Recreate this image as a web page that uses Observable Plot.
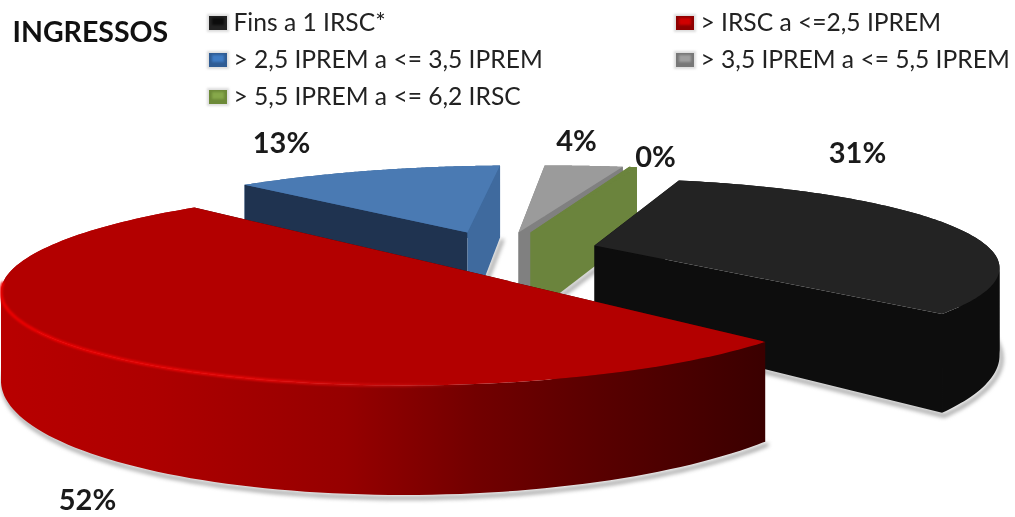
<!DOCTYPE html>
<html><head><meta charset="utf-8">
<script src="https://cdn.jsdelivr.net/npm/d3@7"></script>
<script src="https://cdn.jsdelivr.net/npm/@observablehq/plot@0.6"></script>
<style>html,body{margin:0;padding:0;background:#fff}svg{display:block}</style>
</head><body><div id="chart"></div>
<script>
// --- values ---
const categories = ["Fins a 1 IRSC*", "> IRSC a <=2,5 IPREM", "> 2,5 IPREM a <= 3,5 IPREM", "> 3,5 IPREM a <= 5,5 IPREM", "> 5,5 IPREM a <= 6,2 IRSC"];
const shares = [31, 52, 13, 4, 0.4];
const title = "INGRESSOS";

// --- 3D layout of the exploded slices ---
const startAngle = 14, perspective = 0.2515;
const apexX = [594, 430, 467, 518, 530];
const apexY = [245, 262, 232, 232, 232];
const spreadX = [392, 410, 395, 395, 395];
const skewX = [0, -20, -53, -45, -38];
const spreadY = [83.8, 92, 83.8, 83.8, 83.8];
const depth = [82, 82, 90, 85, 83];
const nudgeStart = [1.5, 10, 0, 0, 0];
const nudgeEnd = [7.5, 3, 0, 0, 0];
const topFill = ["#232323", "#b30000", "#4a7ab3", "#9b9b9b", "#6b843d"];
const arcFill = ["#0d0d0d", "url(#redWall)", "#3a6698", "#808080", "#6b843d"];
const startWall = ["#0d0d0d", "#3d0000", "#1f3350", "#808080", "#6b843d"];
const endWall = ["#0d0d0d", "#3d0000", "#3f6a9e", "#808080", "#6b843d"];
const paintOrder = [2, 3, 4, 0, 1];

// --- labels and legend layout ---
const labelX = [857, 87, 281, 576, 655];
const labelY = [153, 500, 143, 141, 157];
const legendX = [233, 700, 233, 700, 233];
const legendY = [23, 23, 60, 60, 97];
const swatchEdge = ["#222222", "#8c0000", "#2f5c94", "#777777", "#6d8a38"];
const swatchCore = ["#0c0c0c", "#d00000", "#3f7cc4", "#a0a0a0", "#86a84a"];

const total = d3.sum(shares);
let cum = 0;
const slices = shares.map((v, i) => {
  const t0 = startAngle + cum / total * 360;
  cum += v;
  return {i, t0: t0 + nudgeStart[i], t1: startAngle + cum / total * 360 + nudgeEnd[i]};
});
function project(i, t, down = 0) {
  const a = t * Math.PI / 180, U = Math.sin(a), V = -Math.cos(a), w = 1 / (1 - perspective * V);
  return {x: apexX[i] + (spreadX[i] * U + skewX[i] * V) * w, y: apexY[i] + (spreadY[i] * V + depth[i] * down) * w, V};
}
const steps = 120;
const arc = (s, down) => d3.range(0, steps + 1).map(k => project(s.i, s.t0 + (s.t1 - s.t0) * k / steps, down));
const ctr = (i, down) => ({x: apexX[i], y: apexY[i] + depth[i] * down});
const poly = (pts, fill) => Plot.line(pts, {x: "x", y: "y", fill, stroke: "none"});
const wall = (s, t, fill) => poly([ctr(s.i, 0), project(s.i, t, 0), project(s.i, t, 1), ctr(s.i, 1)], fill);
// the curved outer wall: one polygon per stretch of the arc that runs one way in x, so it never folds on itself
function stripMarks(s, fill) {
  const up = arc(s, 0), dn = arc(s, 1), cuts = [0];
  for (let k = 1; k < steps; k++) {
    if ((up[k].x - up[k - 1].x) * (up[k + 1].x - up[k].x) < 0) cuts.push(k);
  }
  cuts.push(steps);
  return d3.pairs(cuts).map(([a, b]) => poly([...up.slice(a, b + 1), ...dn.slice(a, b + 1).reverse()], fill));
}

const marks = [
  () => {
    const defs = d3.create("svg:defs");
    const g = defs.append("linearGradient").attr("id", "redWall").attr("gradientUnits", "userSpaceOnUse")
      .attr("x1", 0).attr("x2", 767).attr("y1", 0).attr("y2", 0);
    [[0, "#b80000"], [0.2, "#ad0000"], [0.45, "#960000"], [0.62, "#720000"], [0.8, "#560000"], [1, "#3a0000"]]
      .forEach(([o, c]) => g.append("stop").attr("offset", o).attr("stop-color", c));
    const h = defs.append("linearGradient").attr("id", "redGlow").attr("gradientUnits", "userSpaceOnUse")
      .attr("x1", 0).attr("x2", 480).attr("y1", 0).attr("y2", 0);
    [[0, "#f00000", 1], [0.55, "#e80808", 1], [0.85, "#d01010", 0.6], [1, "#b30000", 0]]
      .forEach(([o, c, a]) => h.append("stop").attr("offset", o).attr("stop-color", c).attr("stop-opacity", a));
    return defs.node();
  }
];

for (const i of paintOrder) {
  const s = slices[i];
  const bisector = project(i, (s.t0 + s.t1) / 2);
  const top = [ctr(i, 0), ...arc(s, 0)];
  // soft shadow under the lower edges
  const lower = arc(s, 1).filter(p => p.V > 0);
  const shadowPts = i === 1 ? lower : [ctr(i, 1), project(i, s.t1, 1), ...lower.reverse()];
  marks.push(Plot.line(shadowPts, {x: "x", y: "y", stroke: "#6f6f6f", strokeWidth: 3, dx: 2, dy: 3, imageFilter: "blur(2px)", strokeOpacity: 0.8}));
  if (bisector.V > 0) {
    marks.push(wall(s, s.t0, startWall[i]), wall(s, s.t1, endWall[i]), ...stripMarks(s, arcFill[i]));
  } else {
    marks.push(...stripMarks(s, arcFill[i]), wall(s, s.t0, startWall[i]), wall(s, s.t1, endWall[i]));
  }
  marks.push(poly(top, topFill[i]));
  if (i === 1) {
    marks.push(Plot.line(arc(s, 0).filter(p => p.x < 480 && p.V > 0.2), {x: "x", y: "y", stroke: "url(#redGlow)", strokeWidth: 3, imageFilter: "blur(1px)"}));
  }
}

// legend swatches
const swatches = categories.map((c, i) => ({x: legendX[i], y: legendY[i], i}));
marks.push(
  Plot.rect(swatches, {x1: d => d.x - 26, x2: d => d.x - 4, y1: d => d.y - 9, y2: d => d.y + 9, fill: "#dddddd", imageFilter: "blur(1px)"}),
  Plot.rect(swatches, {x1: d => d.x - 24, x2: d => d.x - 6, y1: d => d.y - 7, y2: d => d.y + 7, fill: d => swatchEdge[d.i]}),
  Plot.rect(swatches, {x1: d => d.x - 21, x2: d => d.x - 9, y1: d => d.y - 5, y2: d => d.y + 2, fill: d => swatchCore[d.i], imageFilter: "blur(1px)"})
);
// legend text, title and percentage labels
const font = "Lato, 'Open Sans', sans-serif";
marks.push(
  Plot.text(categories, {x: (d, i) => legendX[i], y: (d, i) => legendY[i], text: d => d, textAnchor: "start", fontSize: 24.6, fontFamily: font, fill: "#222", imageFilter: "blur(0.4px)"}),
  Plot.text([title], {x: () => 12, y: () => 32, text: d => d, textAnchor: "start", fontSize: 28.5, fontWeight: 700, fontFamily: font, fill: "#111", imageFilter: "blur(0.4px)"}),
  Plot.text(shares, {x: (d, i) => labelX[i], y: (d, i) => labelY[i], text: d => Math.round(d) + "%", fontSize: 29, fontWeight: 700, fontFamily: font, fill: "#1a1a1a", imageFilter: "blur(0.4px)"})
);

const chart = Plot.plot({
  width: 1015, height: 517, margin: 0,
  x: {domain: [0, 1015], range: [0, 1015], axis: null},
  y: {domain: [0, 517], range: [0, 517], axis: null},
  color: {type: "identity"},
  style: {background: "#fff"},
  marks
});
document.getElementById("chart").append(chart);
</script></body></html>
